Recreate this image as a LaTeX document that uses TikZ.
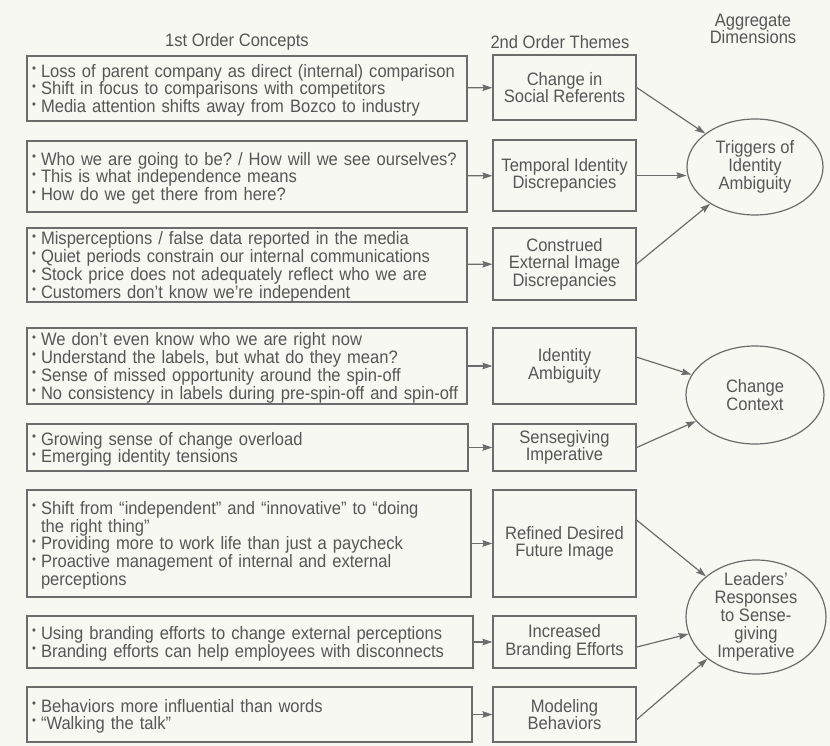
\documentclass[tikz,border=0pt]{standalone}
\usepackage{fontspec}
\setmainfont{Liberation Sans}[FakeStretch=0.92]
\usetikzlibrary{shapes.geometric,arrows.meta}

\definecolor{ink}{RGB}{86,86,86}
\definecolor{rule}{RGB}{108,108,108}
\definecolor{paper}{RGB}{248,248,242}

% one bulleted line with a hanging indent for its continuation lines
\newcommand\itm[1]{\par\noindent\hangindent=9pt\hangafter=1%
  \makebox[9pt][l]{\raisebox{0.5ex}{\fontsize{12}{12}\selectfont\textbullet}}#1}

\begin{document}
\frenchspacing
\begin{tikzpicture}[x=1pt,y=-1pt,
  every node/.style={text=ink,font=\fontsize{18}{17.5}\selectfont},
  concept/.style={draw=rule,line width=1.3pt,rectangle,inner xsep=5pt,inner ysep=0pt,
    align=left,font=\fontsize{18}{16.7}\selectfont},
  theme/.style={draw=rule,line width=1.3pt,rectangle,minimum width=143pt,inner sep=0pt,
    align=center,font=\fontsize{18}{17.5}\selectfont},
  dimension/.style={draw=rule,line width=1.2pt,ellipse,inner sep=0pt},
  dimtext/.style={align=center,font=\fontsize{18}{18}\selectfont},
  arr/.style={draw=rule,line width=1.2pt,-{Stealth[length=10pt,width=6.5pt,inset=1.5pt]}}
]
% page
\fill[paper] (0,0) rectangle (830,746);
\useasboundingbox (0,0) rectangle (830,746);

% column headings
\node (h1) at (237,42) {1st Order Concepts};
\node (h2) at (560,42) {2nd Order Themes};
\node[align=center] (h3) at (753,29) {Aggregate\\Dimensions};

% first order concepts
\node[concept,text width=430pt,minimum height=65pt] (c1) at (247,88.5) {%
  \itm{Loss of parent company as direct (internal) comparison}
  \itm{Shift in focus to comparisons with competitors}
  \itm{Media attention shifts away from Bozco to industry}\par};
\node[concept,text width=430pt,minimum height=71pt] (c2) at (247,176.5) {%
  \itm{Who we are going to be? / How will we see ourselves?}
  \itm{This is what independence means}
  \itm{How do we get there from here?}\par};
\node[concept,text width=430pt,minimum height=72pt] (c3) at (247,265) {%
  \itm{Misperceptions / false data reported in the media}
  \itm{Quiet periods constrain our internal communications}
  \itm{Stock price does not adequately reflect who we are}
  \itm{Customers don't know we're independent}\par};
\node[concept,text width=430pt,minimum height=76pt] (c4) at (247,366) {%
  \itm{We don't even know who we are right now}
  \itm{Understand the labels, but what do they mean?}
  \itm{Sense of missed opportunity around the spin-off}
  \itm{\mbox{No consistency in labels during pre-spin-off and spin-off}}\par};
\node[concept,text width=431pt,minimum height=47pt] (c5) at (247.5,447.5) {%
  \itm{Growing sense of change overload}
  \itm{Emerging identity tensions}\par};
\node[concept,text width=434pt,minimum height=107pt] (c6) at (249,543.5) {%
  \itm{Shift from ``independent'' and ``innovative'' to ``doing\newline the right thing''}
  \itm{Providing more to work life than just a paycheck}
  \itm{Proactive management of internal and external\newline perceptions}\par};
\node[concept,text width=436pt,minimum height=52pt] (c7) at (250,642) {%
  \itm{Using branding efforts to change external perceptions}
  \itm{Branding efforts can help employees with disconnects}\par};
\node[concept,text width=435pt,minimum height=55pt] (c8) at (249.5,714.5) {%
  \itm{Behaviors more influential than words}
  \itm{``Walking the talk''}\par};

% second order themes
\node[theme,minimum height=65pt] (t1) at (564.5,87.5) {Change in\\Social Referents};
\node[theme,minimum height=71pt] (t2) at (564.5,175.5) {Temporal Identity\\Discrepancies};
\node[theme,minimum height=72pt] (t3) at (564.5,264) {Construed\\External Image\\Discrepancies};
\node[theme,minimum height=76pt] (t4) at (564.5,366) {Identity\\Ambiguity};
\node[theme,minimum height=47pt] (t5) at (564.5,447.5) {Sensegiving\\Imperative};
\node[theme,minimum height=107pt] (t6) at (564.5,543.5) {Refined Desired\\Future Image};
\node[theme,minimum height=52pt] (t7) at (564.5,642) {Increased\\Branding Efforts};
\node[theme,minimum height=55pt] (t8) at (564.5,714.5) {Modeling\\Behaviors};

% aggregate dimensions
\node[dimension,minimum width=136pt,minimum height=96pt] (trig) at (755,167) {};
\node[dimtext] (trigl) at (trig) {Triggers of\\Identity\\Ambiguity};
\node[dimension,minimum width=138pt,minimum height=98pt] (ctx) at (755,395) {};
\node[dimtext] (ctxl) at (ctx) {Change\\Context};
\node[dimension,minimum width=140pt,minimum height=114pt] (lead) at (756,617) {};
\node[dimtext] (leadl) at (lead) {Leaders'\\Responses\\to Sense-\\giving\\Imperative};

% concepts feed themes
\foreach \i in {1,...,8} {\draw[arr] (c\i) -- (t\i);}

% themes feed dimensions
\draw[arr] (t1.east) -- (trig);
\draw[arr] (t2) -- (t2 -| trig.west);
\draw[arr] (t3.east) -- (trig);
\draw[arr] (t4.7) -- (ctx);
\draw[arr] (t5.east) -- (ctx);
\draw[arr] (t6.18) -- (lead);
\draw[arr] (t7.-4) -- (lead);
\draw[arr] (t8.-4) -- (lead);
\end{tikzpicture}
\end{document}
